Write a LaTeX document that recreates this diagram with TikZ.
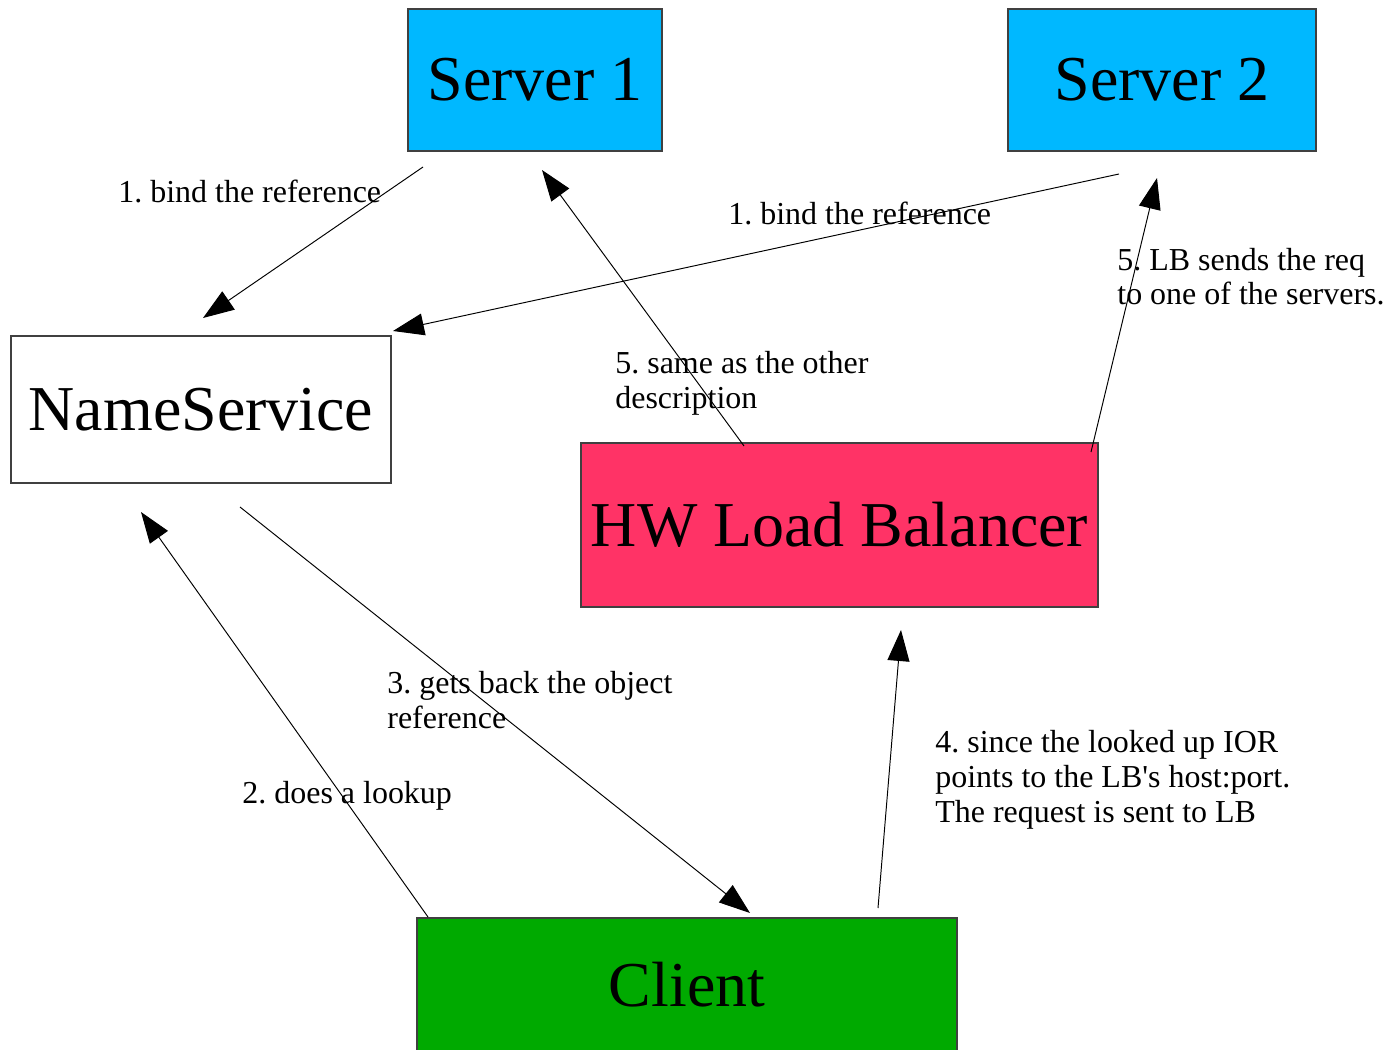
\documentclass[tikz,border=0pt]{standalone}
\usepackage{fontspec}
\setmainfont{Liberation Serif}
\usetikzlibrary{arrows.meta}
\frenchspacing
\definecolor{srvcyan}{RGB}{0,184,255}
\definecolor{lbpink}{RGB}{255,51,102}
\definecolor{clgreen}{RGB}{0,170,0}
\tikzset{
  box/.style={draw=black!75, line width=0.6pt, rectangle, inner sep=0pt,
    font=\fontsize{36.4}{40}\selectfont},
  lbl/.style={anchor=base west, inner sep=0pt, align=left,
    font=\fontsize{18.2}{19.9}\selectfont},
  conn/.style={line width=0.55pt, -{Triangle[length=0.62cm,width=0.44cm]}}
}
\begin{document}
\begin{tikzpicture}[x=0.02cm,y=-0.02cm]
\useasboundingbox (0,0) rectangle (1388,1050);
\clip (0,0) rectangle (1388,1050);
% boxes
\node[box, fill=srvcyan, minimum width=254*0.02cm, minimum height=142*0.02cm] (s1) at (535,80) {Server 1};
\node[box, fill=srvcyan, minimum width=308*0.02cm, minimum height=142*0.02cm] (s2) at (1162,80) {Server 2};
\node[box, fill=white, minimum width=380*0.02cm, minimum height=147*0.02cm] (ns) at (201,409.5) {NameService};
\node[box, fill=lbpink, minimum width=517*0.02cm, minimum height=164*0.02cm] (lb) at (839.5,525) {HW Load Balancer};
\node[box, fill=clgreen, minimum width=540*0.02cm, minimum height=134*0.02cm] (cl) at (687,985) {Client};
% connector end points
\coordinate (a1s) at (423,167);  \coordinate (a1e) at (203,318);
\coordinate (a2s) at (1119,174); \coordinate (a2e) at (393,331);
\coordinate (a3s) at (744,446);  \coordinate (a3e) at (542,170);
\coordinate (a4s) at (1091,452); \coordinate (a4e) at (1157,178);
\coordinate (a5s) at (428,917);  \coordinate (a5e) at (141,512);
\coordinate (a6s) at (240,507);  \coordinate (a6e) at (750,913);
\coordinate (a7s) at (878,908);  \coordinate (a7e) at (901,630);
% connectors
\draw[conn] (a1s) -- (a1e);
\draw[conn] (a2s) -- (a2e);
\draw[conn] (a3s) -- (a3e);
\draw[conn] (a4s) -- (a4e);
\draw[conn] (a5s) -- (a5e);
\draw[conn] (a6s) -- (a6e);
\draw[conn] (a7s) -- (a7e);
% labels (base anchor = baseline of the last line)
\node[lbl] (l1) at (118,203) {1. bind the reference};
\node[lbl] (l2) at (728,225) {1. bind the reference};
\node[lbl] (l3) at (615,408) {5. same as the other\\description};
\node[lbl] (l4) at (1117,305) {5. LB sends the req\\to one of the servers.};
\node[lbl] (l5) at (242,803) {2. does a lookup};
\node[lbl] (l6) at (387,728) {3. gets back the object\\reference};
\node[lbl] (l7) at (935,822) {4. since the looked up IOR\\points to the LB\textquotesingle s host:port.\\The request is sent to LB};
\end{tikzpicture}
\end{document}
